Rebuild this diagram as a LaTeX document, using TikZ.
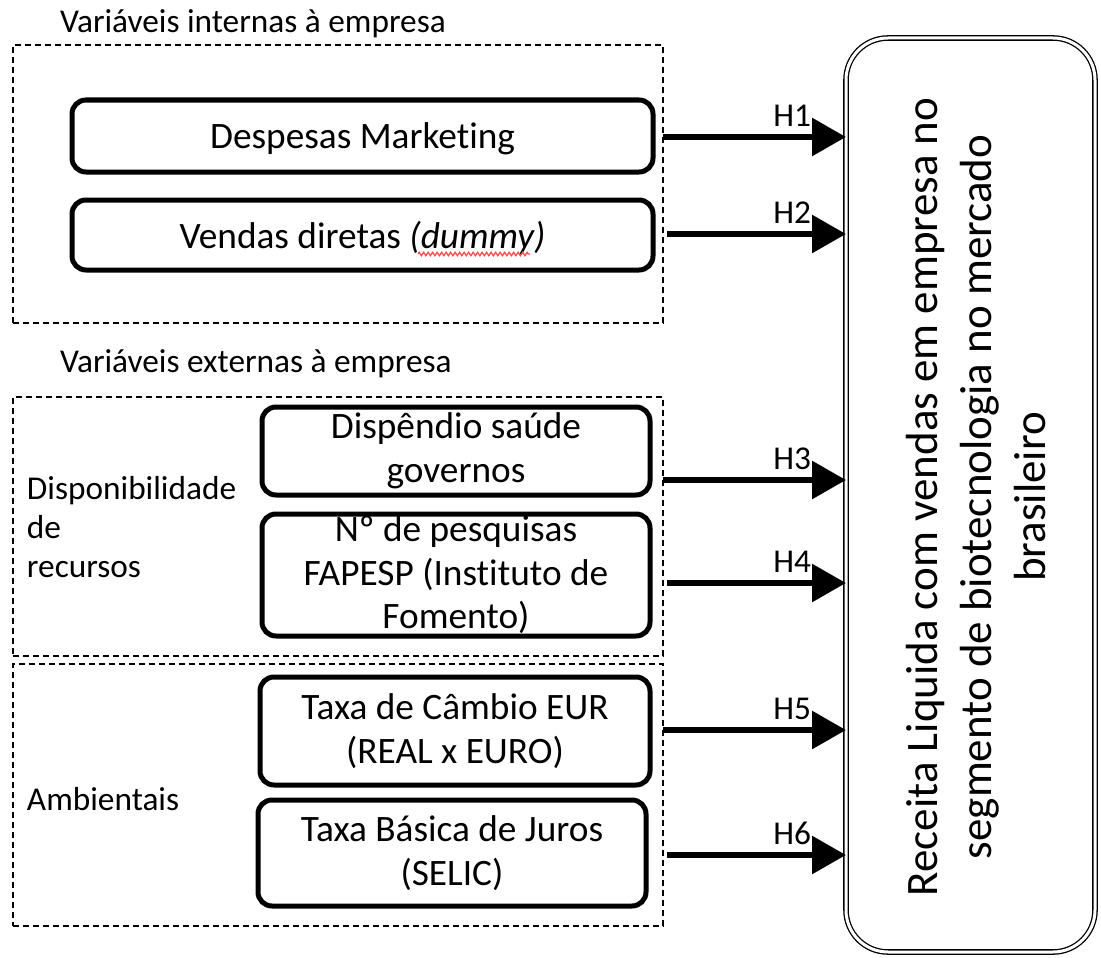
\documentclass[tikz,border=0pt]{standalone}
\usepackage{fontspec}
\setmainfont{Carlito}[Ligatures={NoCommon}]
\usetikzlibrary{arrows.meta,decorations.pathmorphing,calc}
\tikzset{
  grp/.style={draw, line width=1.2pt, dash pattern=on 6pt off 4pt, inner sep=0pt, outer sep=0pt},
  vbox/.style={draw, line width=5pt, rounded corners=14pt, align=center, inner sep=0pt, outer sep=0pt,
    font=\fontsize{37.3}{43.5}\selectfont},
  lab/.style={inner sep=0pt, outer sep=0pt, font=\fontsize{33.3}{39}\selectfont},
  bigbox/.style={draw, line width=1.3pt, double, double distance=3pt, rounded corners=42pt, inner sep=0pt, outer sep=0pt},
  arr/.style={line width=6pt, -{Triangle[length=34pt,width=37pt]}},
  squig/.style={draw=red!70, line width=1.3pt, decorate, decoration={zigzag, amplitude=1.7pt, segment length=4.5pt}}
}
\begin{document}
\begin{tikzpicture}[x=1pt,y=-1pt]
\useasboundingbox (0,0) rectangle (1101,958);
% group frames
\node[grp, minimum width=650pt, minimum height=278pt] (g1) at (338,184) {};
\node[grp, minimum width=650pt, minimum height=259pt] (g2) at (338,526.5) {};
\node[grp, minimum width=650pt, minimum height=262pt] (g3) at (338,795) {};
% titles
\node[lab, anchor=base west] (t1) at (60,33) {Variáveis internas à empresa};
\node[lab, anchor=base west] (t2) at (60,372) {Variáveis externas à empresa};
\node[lab, anchor=west, align=left] (t3) at (27,527) {Disponibilidade\\de\\recursos};
\node[lab, anchor=base west] (t4) at (27,810) {Ambientais};
% variable boxes
\node[vbox, text depth=0pt, minimum width=581pt, minimum height=72pt] (b1) at (362.5,136) {Despesas Marketing};
\node[vbox, text depth=0pt, minimum width=581pt, minimum height=70pt] (b2) at (362.5,235) {Vendas diretas \textit{(dummy)}};
\node[vbox, minimum width=388pt, minimum height=88pt] (b3) at (456,451) {Dispêndio saúde\\governos};
\node[vbox, minimum width=388pt, minimum height=122pt] (b4) at (456,575) {Nº de pesquisas\\FAPESP (Instituto de\\Fomento)};
\node[vbox, minimum width=390pt, minimum height=108pt] (b5) at (455,731) {Taxa de Câmbio EUR\\(REAL x EURO)};
\node[vbox, minimum width=388pt, minimum height=106pt] (b6) at (452,853) {Taxa Básica de Juros\\(SELIC)};
\draw[squig] (418,254) -- (530,254);
% dependent variable
\node[bigbox, minimum width=249pt, minimum height=914pt] (big) at (970.5,495) {};
\node[rotate=90, align=center, inner sep=0pt, font=\fontsize{45}{54}\selectfont] (bt) at (976,497)
  {Receita Liquida com vendas em empresa no\\segmento de biotecnologia no mercado\\brasileiro};
% arrows
\coordinate (s1) at (g1.east |- 0,137);
\coordinate (s2) at (667,234);
\coordinate (s3) at (g2.east |- 0,480);
\coordinate (s4) at (667,583);
\coordinate (s5) at (g3.east |- 0,730);
\coordinate (s6) at (667,855);
\foreach \i in {1,...,6}{
  \draw[arr] (s\i) -- (s\i -| big.west) coordinate (e\i);
  \node[lab, anchor=base east] (h\i) at ($(e\i)+(-35,-11)$) {H\i};
}
\end{tikzpicture}
\end{document}
